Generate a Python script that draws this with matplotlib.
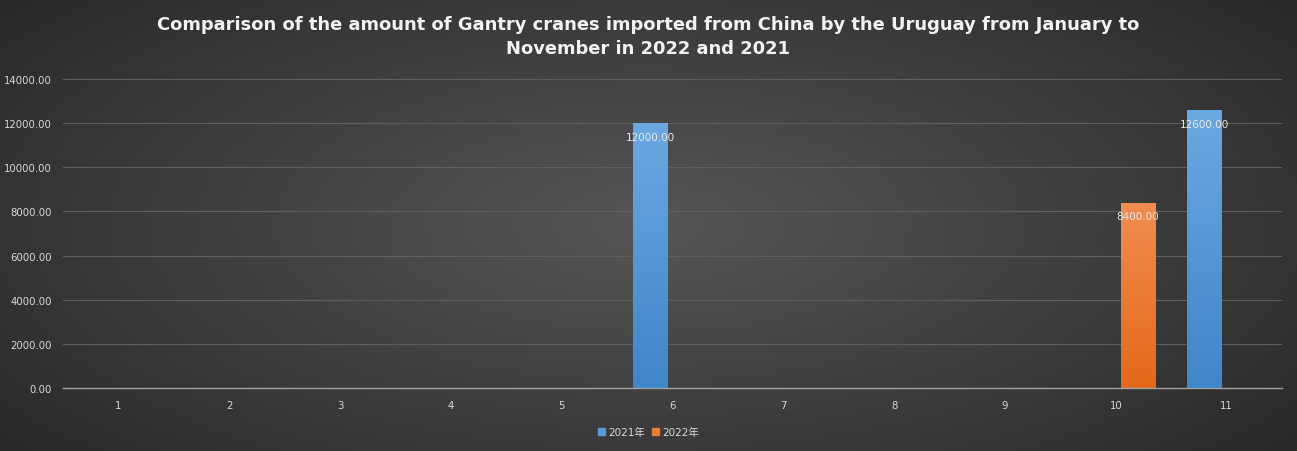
import matplotlib
matplotlib.use("Agg")
import matplotlib.pyplot as plt
import numpy as np
from matplotlib.patches import Patch

plt.rcParams['font.family'] = ['DejaVu Sans', 'Noto Sans CJK SC']

# Daten
months = ['1', '2', '3', '4', '5', '6', '7', '8', '9', '10', '11']
y2021 = [0, 0, 0, 0, 0, 12000, 0, 0, 0, 0, 12600]
y2022 = [0, 0, 0, 0, 0, 0, 0, 0, 0, 8400, 0]
series_names = ['2021年', '2022年']
title = ("Comparison of the amount of Gantry cranes imported from China by the Uruguay from January to\n"
         "November in 2022 and 2021")

W, H = 1297, 452
fig = plt.figure(figsize=(W / 100, H / 100), dpi=100)

# Hintergrund: radialer Verlauf
bg = fig.add_axes([0, 0, 1, 1])
yy, xx = np.mgrid[0:1:200j, 0:1:500j]
r = np.sqrt(((xx - 0.5) / 0.75) ** 2 + ((yy - 0.5) / 0.9) ** 2)
r = np.clip(r, 0, 1)
light = np.array([0x56, 0x56, 0x56]) / 255
dark = np.array([0x22, 0x22, 0x22]) / 255
img = light[None, None, :] * (1 - r[..., None]) + dark[None, None, :] * r[..., None]
bg.imshow(img, aspect='auto', extent=[0, 1, 0, 1], origin='lower')
bg.axis('off')

ax = fig.add_axes([63 / W, 1 - 389 / H, (1282 - 63) / W, (389 - 80) / H])
ax.set_facecolor('none')

x = np.arange(len(months))
width = 0.31
offset = 0.2


def gradient_bars(xs, vals, top, bottom):
    cmap = matplotlib.colors.LinearSegmentedColormap.from_list('g', [bottom, top])
    grad = np.linspace(0, 1, 100).reshape(-1, 1)
    bars = ax.bar(xs, vals, width, color=bottom, zorder=3)
    for b, v in zip(bars, vals):
        if v <= 0:
            continue
        b.set_facecolor('none')
        b.set_edgecolor('none')
        im = ax.imshow(grad, cmap=cmap, aspect='auto', origin='lower',
                       extent=[b.get_x(), b.get_x() + b.get_width(), 0, v], zorder=3)
        im.set_clip_path(b)
    return bars


b1 = gradient_bars(x - offset, y2021, '#6ba8e2', '#3f86ca')
b2 = gradient_bars(x + offset, y2022, '#f18d50', '#e4691a')

for bars, vals in [(b1, y2021), (b2, y2022)]:
    for b, v in zip(bars, vals):
        if v > 0:
            ax.text(b.get_x() + b.get_width() / 2, v - 400, f"{v:.2f}",
                    ha='center', va='top', color='#e8e8e8', fontsize=7.5, zorder=5)

ax.set_xlim(-0.5, len(months) - 0.5)
ax.set_ylim(0, 14000)
ax.set_yticks(np.arange(0, 14001, 2000))
ax.set_yticklabels([f"{v:.2f}" for v in np.arange(0, 14001, 2000)])
ax.set_xticks(x)
ax.set_xticklabels(months)
ax.tick_params(colors='#d9d9d9', labelsize=7.3, length=0)
ax.tick_params(axis='x', pad=9)
ax.tick_params(axis='y', pad=8)
ax.grid(axis='y', color='#5e5e5e', linewidth=0.8, zorder=0)
ax.set_axisbelow(True)
for s in ['top', 'right', 'left']:
    ax.spines[s].set_visible(False)
ax.spines['bottom'].set_color('#a0a0a0')
ax.spines['bottom'].set_linewidth(1.0)
ax.spines['bottom'].set_zorder(4)

fig.text(0.5, 1 - 37 / H, title, ha='center', va='center', color='#f2f2f2',
         fontsize=12.9, fontweight='bold', family=['DejaVu Sans'],
         linespacing=1.5)

handles = [Patch(color='#5b9bd5'), Patch(color='#ed7d31')]
fig.legend(handles, series_names, loc='center', bbox_to_anchor=(0.5, 1 - 433 / H),
           ncol=2, frameon=False, fontsize=7.5, labelcolor='#d9d9d9',
           handlelength=0.7, handleheight=0.7, handletextpad=0.3, columnspacing=0.6)

fig.savefig('out.png', dpi=100)
